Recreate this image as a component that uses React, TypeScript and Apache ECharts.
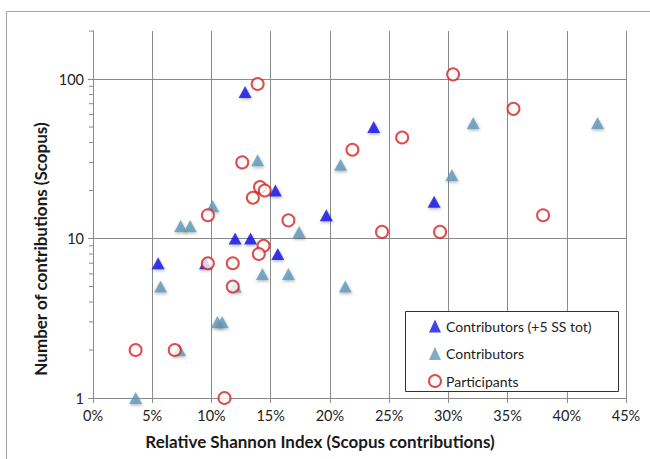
import React, { useEffect, useRef } from "react";
import * as echarts from "echarts";

const xTickMin = 0;
const xTickMax = 45;
const xTickStep = 5;
const yMin = 1;
const yMax = 200;
const yMinorTicks = [2, 3, 4, 5, 6, 7, 8, 9, 20, 30, 40, 50, 60, 70, 80, 90, 200];

const seriesNames = ["Contributors (+5 SS tot)", "Contributors", "Participants"];

// [Relative Shannon Index %, Number of contributions]
const contributorsPlus: number[][] = [
  [12.84, 83], [23.7, 50], [15.4, 20], [19.7, 14], [28.8, 17],
  [12.0, 10], [13.3, 10], [15.6, 8], [5.5, 7], [9.5, 7],
];

const contributors: number[][] = [
  [13.9, 31], [20.9, 29], [32.1, 53], [42.6, 53], [30.3, 25],
  [10.1, 16], [7.4, 12], [8.2, 12], [17.4, 11], [14.3, 6],
  [16.5, 6], [5.7, 5], [21.3, 5], [12.0, 5], [10.5, 3],
  [10.9, 3], [7.3, 2], [3.6, 1],
];

const participants: number[][] = [
  [13.9, 93], [30.4, 107], [35.5, 65], [26.1, 43], [21.9, 36],
  [12.6, 30], [14.1, 21], [14.5, 20], [13.5, 18], [9.7, 14],
  [16.5, 13], [38.0, 14], [24.4, 11], [29.3, 11], [14.4, 9],
  [14.0, 8], [9.7, 7], [11.8, 7], [11.8, 5], [3.6, 2],
  [6.9, 2], [11.1, 1],
];

const FONT = "Lato, 'Open Sans', sans-serif";
const AXIS_GRAY = "#8a8a8a";

export default function App() {
  const ref = useRef<HTMLDivElement>(null);
  useEffect(() => {
    if (!ref.current) return;
    const chart = echarts.init(ref.current, null, { renderer: "svg" });
    const triShadow = {
      shadowBlur: 3,
      shadowOffsetX: 0.5,
      shadowOffsetY: 1.5,
      shadowColor: "rgba(0,0,0,0.35)",
    };
    chart.setOption({
      animation: false,
      backgroundColor: "#ffffff",
      textStyle: { fontFamily: FONT },
      grid: { left: 93, right: 24, top: 31, bottom: 61, containLabel: false },
      xAxis: {
        type: "value",
        min: xTickMin,
        max: xTickMax,
        interval: xTickStep,
        axisLine: { show: true, lineStyle: { color: AXIS_GRAY, width: 1 } },
        axisTick: { show: true, length: 5, lineStyle: { color: AXIS_GRAY } },
        splitLine: { show: true, lineStyle: { color: AXIS_GRAY, width: 1 } },
        axisLabel: {
          formatter: "{value}%",
          color: "#222",
          fontSize: 14.5,
          fontFamily: FONT,
          margin: 10,
        },
      },
      yAxis: {
        type: "log",
        logBase: 10,
        min: yMin,
        max: yMax,
        axisLine: { show: true, lineStyle: { color: AXIS_GRAY, width: 1 } },
        axisTick: { show: true, length: 5, lineStyle: { color: AXIS_GRAY } },
        splitLine: {
          show: true,
          lineStyle: {
            color: [AXIS_GRAY, AXIS_GRAY, AXIS_GRAY, "rgba(0,0,0,0)"],
            width: 1,
          },
        },
        axisLabel: {
          color: "#222",
          fontSize: 14.5,
          fontFamily: FONT,
          margin: 9,
          showMaxLabel: false,
          formatter: (v: number) => {
            const l = Math.log10(v);
            return Math.abs(l - Math.round(l)) < 1e-6 ? String(Math.round(v)) : "";
          },
        },
      },
      legend: {
        orient: "vertical",
        left: 428,
        top: 319,
        padding: 0,
        itemWidth: 12,
        itemHeight: 13,
        itemGap: 13.5,
        data: seriesNames,
        textStyle: { fontSize: 14, color: "#222", fontFamily: FONT },
      },
      graphic: [
        {
          type: "rect",
          shape: { x: 6.5, y: 11.5, width: 700, height: 500 },
          style: { fill: "none", stroke: "#a5a5a5", lineWidth: 1 },
          silent: true,
        },
        {
          type: "rect",
          shape: { x: 405.5, y: 311.5, width: 213, height: 80 },
          style: { fill: "#ffffff", stroke: "#333", lineWidth: 1 },
          z: 3,
          silent: true,
        },
        {
          type: "text",
          x: 320,
          y: 441,
          style: {
            text: "Relative Shannon Index (Scopus contributions)",
            font: `bold 17px ${FONT}`,
            fill: "#1a1a1a",
            textAlign: "center",
            textVerticalAlign: "middle",
          },
        },
        {
          type: "text",
          x: 40,
          y: 249,
          rotation: Math.PI / 2,
          style: {
            text: "Number of contributions (Scopus)",
            font: `bold 17px ${FONT}`,
            fill: "#1a1a1a",
            textAlign: "center",
            textVerticalAlign: "middle",
          },
        },
      ],
      series: [
        {
          type: "custom",
          name: "minorTicks",
          silent: true,
          clip: false,
          encode: { x: 0, y: 1 },
          data: yMinorTicks.map((v) => [0, v]),
          renderItem: (params: any, api: any) => {
            const p = api.coord([0, api.value(1)]);
            return {
              type: "line",
              shape: { x1: p[0] - 4, y1: p[1], x2: p[0], y2: p[1] },
              style: { stroke: AXIS_GRAY, lineWidth: 1 },
            };
          },
        },
        {
          type: "scatter",
          name: seriesNames[0],
          data: contributorsPlus,
          symbol: "triangle",
          symbolSize: [13, 12],
          itemStyle: { color: "#1414e6", ...triShadow },
        },
        {
          type: "scatter",
          name: seriesNames[1],
          data: contributors,
          symbol: "triangle",
          symbolSize: [13, 12],
          itemStyle: { color: "#5f97ba", ...triShadow },
        },
        {
          type: "scatter",
          name: seriesNames[2],
          data: participants,
          symbol: "circle",
          symbolSize: 12,
          itemStyle: { color: "#ffffff", borderColor: "#d71f1f", borderWidth: 2 },
        },
      ],
    });
    return () => chart.dispose();
  }, []);
  return (
    <div
      ref={ref}
      style={{ position: "fixed", left: 0, top: 0, width: 650, height: 459 }}
    />
  );
}
